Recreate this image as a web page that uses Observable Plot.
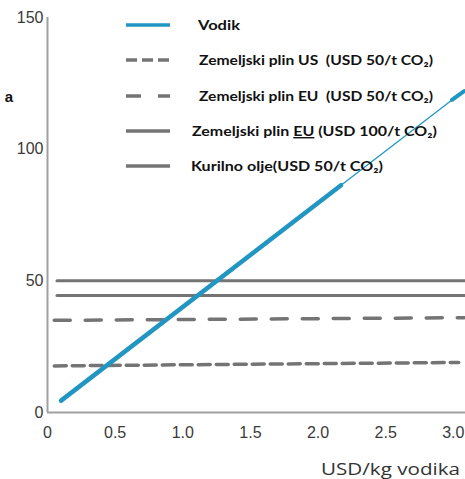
<!DOCTYPE html>
<html>
<head>
<meta charset="utf-8">
<script src="https://cdn.jsdelivr.net/npm/d3@7"></script>
<script src="https://cdn.jsdelivr.net/npm/@observablehq/plot@0.6"></script>
<style>
  html, body { margin: 0; padding: 0; background: #fff; }
  #chart { position: relative; width: 465px; height: 479px; }
</style>
</head>
<body>
<div id="chart"></div>
<script>
// ---- data ----
const xTicks = [0, 0.5, 1.0, 1.5, 2.0, 2.5, 3.0];
const xTickLabels = ["0", "0.5", "1.0", "1.5", "2.0", "2.5", "3.0"];
const yTicks = [0, 50, 100, 150];

const seriesNames = [
  "Vodik",
  "Zemeljski plin US  (USD 50/t CO₂)",
  "Zemeljski plin EU  (USD 50/t CO₂)",
  "Zemeljski plin EU (USD 100/t CO₂)",
  "Kurilno olje(USD 50/t CO₂)"
];

// Vodik (hydrogen) line: thick part, thin part, thick tip
const vodikThickX = [0.1, 2.17];
const vodikThickY = [4.5, 86.3];
const vodikThinX = [2.17, 2.99];
const vodikThinY = [86.3, 118.7];
const vodikTipX = [2.99, 3.08];
const vodikTipY = [118.7, 122.0];

const gasUsX = [0.05, 3.04];
const gasUsY = [17.7, 19.0];
const gasEu50X = [0.05, 3.08];
const gasEu50Y = [35.0, 36.0];
const gasEu100X = [0.07, 3.09];
const gasEu100Y = [44.4, 44.4];
const oilX = [0.07, 3.09];
const oilY = [50, 50];

const xLabel = "USD/kg vodika";
const yLabelFragment = "a";

// ---- build ----
const pts = (xs, ys) => xs.map((x, i) => ({x, y: ys[i]}));
const blue = "#2196c2";
const gray = "#747474";

const plot = Plot.plot({
  width: 465,
  height: 479,
  marginLeft: 47,
  marginRight: 0,
  marginTop: 17,
  marginBottom: 67,
  style: {fontFamily: "'Liberation Sans', Arial, sans-serif", fontSize: "16px", color: "#3a3a3a", background: "#fff"},
  x: {domain: [0, 3.09], ticks: xTicks, tickFormat: (d) => xTickLabels[xTicks.indexOf(d)], tickSize: 0, tickPadding: 14, label: null},
  y: {domain: [0, 150], ticks: yTicks, tickSize: 0, tickPadding: 4, label: null},
  marks: [
    Plot.line(pts(gasUsX, gasUsY), {x: "x", y: "y", stroke: gray, strokeWidth: 3.5, strokeDasharray: "12 6"}),
    Plot.line(pts(gasEu50X, gasEu50Y), {x: "x", y: "y", stroke: gray, strokeWidth: 3.5, strokeDasharray: "16 15"}),
    Plot.line(pts(gasEu100X, gasEu100Y), {x: "x", y: "y", stroke: gray, strokeWidth: 3}),
    Plot.line(pts(oilX, oilY), {x: "x", y: "y", stroke: gray, strokeWidth: 3}),
    Plot.ruleX([0], {y1: 0, y2: 150, stroke: "#a0a0a0", strokeWidth: 2}),
    Plot.ruleY([0], {x1: 0, x2: 3.09, stroke: "#a0a0a0", strokeWidth: 2}),
    Plot.line(pts(vodikThickX, vodikThickY), {x: "x", y: "y", stroke: blue, strokeWidth: 4.5, strokeLinecap: "round"}),
    Plot.line(pts(vodikThinX, vodikThinY), {x: "x", y: "y", stroke: blue, strokeWidth: 1.3}),
    Plot.line(pts(vodikTipX, vodikTipY), {x: "x", y: "y", stroke: blue, strokeWidth: 4, strokeLinecap: "round"})
  ]
});
document.getElementById("chart").appendChild(plot);

// ---- legend & labels ----
const svg = d3.select(plot);
const legendRows = [
  {name: seriesNames[0], y: 25, tx: 198, w: 42, dash: null, color: blue},
  {name: seriesNames[1], y: 60, tx: 199, w: 234, dash: "11 5", color: gray},
  {name: seriesNames[2], y: 96, tx: 199, w: 234, dash: "15 17", color: gray},
  {name: seriesNames[3], y: 131, tx: 192, w: 245, dash: null, color: gray, underline: true},
  {name: seriesNames[4], y: 166, tx: 191, w: 192, dash: null, color: gray}
];
const lg = svg.append("g").attr("text-anchor", "start");
legendRows.forEach(r => {
  lg.append("line").attr("x1", 126).attr("x2", 170).attr("y1", r.y).attr("y2", r.y)
    .attr("stroke", r.color).attr("stroke-width", 3.5)
    .attr("stroke-dasharray", r.dash);
  const t = lg.append("text").attr("x", r.tx).attr("y", r.y + 5)
    .attr("text-anchor", "start")
    .attr("font-family", "Lato, 'Open Sans', sans-serif").attr("font-weight", "bold")
    .attr("font-size", 14).attr("fill", "#111")
    .attr("textLength", r.w).attr("lengthAdjust", "spacingAndGlyphs");
  if (r.underline) {
    t.append("tspan").text("Zemeljski plin ");
    t.append("tspan").attr("text-decoration", "underline").text("EU");
    t.append("tspan").text(" (USD 100/t CO₂)");
  } else {
    t.text(r.name);
  }
});
svg.append("text").attr("x", 321).attr("y", 475).attr("text-anchor", "start")
  .attr("font-family", "'Open Sans', sans-serif").attr("font-size", 17).attr("fill", "#333")
  .attr("textLength", 139).attr("lengthAdjust", "spacingAndGlyphs")
  .text(xLabel);
svg.append("text").attr("x", 13).attr("y", 102).attr("text-anchor", "end")
  .attr("font-family", "Arial, 'Liberation Sans', sans-serif").attr("font-weight", "bold")
  .attr("font-size", 15).attr("fill", "#111")
  .text(yLabelFragment);
</script>
</body>
</html>
